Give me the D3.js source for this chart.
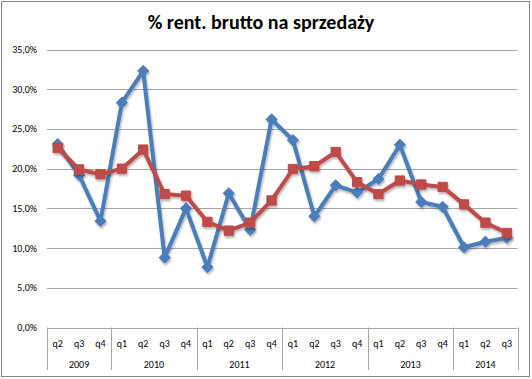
<!DOCTYPE html>
<html>
<head>
<meta charset="utf-8">
<script src="https://cdn.jsdelivr.net/npm/d3@7"></script>
<style>
  body { margin: 0; background: #fff; }
  svg { display: block; font-family: Carlito, "Open Sans", "Liberation Sans", sans-serif; }
</style>
</head>
<body>
<div id="chart"></div>
<script>
const width = 532;
const height = 379;

const years = ["2009", "2010", "2011", "2012", "2013", "2014"];
const quarters = [
  ["q2","q3","q4"],
  ["q1","q2","q3","q4"],
  ["q1","q2","q3","q4"],
  ["q1","q2","q3","q4"],
  ["q1","q2","q3","q4"],
  ["q1","q2","q3"]
];

const blueValues = [23.1, 19.2, 13.4, 28.3, 32.3, 8.8, 15.0, 7.6, 16.9, 12.3, 26.2,
  23.6, 14.0, 17.9, 17.0, 18.7, 23.0, 15.8, 15.2, 10.1, 10.8, 11.3];
const redValues = [22.6, 19.9, 19.3, 20.0, 22.4, 16.8, 16.6, 13.3, 12.2, 13.2, 16.0,
  19.95, 20.3, 22.1, 18.3, 16.8, 18.5, 18.0, 17.7, 15.5, 13.2, 11.9];

const yTicks = [0, 5, 10, 15, 20, 25, 30, 35];

// flatten categories
const cats = [];
years.forEach((y, i) => quarters[i].forEach(q => cats.push({ year: y, q: q, key: y + q })));

const margin = { left: 47, right: 14, top: 49, bottom: 51 };

const svg = d3.select("#chart")
  .append("svg")
  .attr("width", width)
  .attr("height", height);

// outer border
svg.append("rect")
  .attr("x", 1.5).attr("y", 1.5)
  .attr("width", width - 4).attr("height", height - 4)
  .attr("fill", "#fff")
  .attr("stroke", "#868686");

const x = d3.scaleBand()
  .domain(cats.map(d => d.key))
  .range([margin.left, width - margin.right - 0.5]);

const y = d3.scaleLinear()
  .domain([0, 35])
  .range([327.5, 49.5]);

// title
svg.append("text")
  .attr("x", 261)
  .attr("y", 29)
  .attr("text-anchor", "middle")
  .attr("font-size", 20)
  .attr("font-weight", "bold")
  .attr("fill", "#000")
  .text("% rent. brutto na sprzedaży");

// gridlines
svg.append("g")
  .selectAll("line")
  .data(yTicks)
  .join("line")
  .attr("x1", margin.left)
  .attr("x2", x.range()[1])
  .attr("y1", d => Math.round(y(d)) + 0.5)
  .attr("y2", d => Math.round(y(d)) + 0.5)
  .attr("stroke", "#a6a6a6")
  .attr("stroke-width", 1);

// y labels
svg.append("g")
  .selectAll("text")
  .data(yTicks)
  .join("text")
  .attr("x", 37)
  .attr("y", d => y(d))
  .attr("dy", "0.35em")
  .attr("text-anchor", "end")
  .attr("font-size", 10)
  .attr("fill", "#000")
  .text(d => d3.format(".1f")(d).replace(".", ",") + "%");

// year separators
let idx = 0;
const bounds = [0];
quarters.forEach(q => { idx += q.length; bounds.push(idx); });
const xAt = i => i < cats.length ? x(cats[i].key) : x.range()[1];

svg.append("g")
  .selectAll("line")
  .data(bounds)
  .join("line")
  .attr("x1", d => Math.round(xAt(d)) + 0.5)
  .attr("x2", d => Math.round(xAt(d)) + 0.5)
  .attr("y1", y(0))
  .attr("y2", 370)
  .attr("stroke", "#a6a6a6");

// quarter labels
svg.append("g")
  .selectAll("text")
  .data(cats)
  .join("text")
  .attr("x", d => x(d.key) + x.bandwidth() / 2)
  .attr("y", 347)
  .attr("text-anchor", "middle")
  .attr("font-size", 10)
  .attr("fill", "#000")
  .text(d => d.q);

// year labels
svg.append("g")
  .selectAll("text")
  .data(years)
  .join("text")
  .attr("x", (d, i) => (xAt(bounds[i]) + xAt(bounds[i + 1])) / 2)
  .attr("y", 368)
  .attr("text-anchor", "middle")
  .attr("font-size", 10)
  .attr("fill", "#000")
  .text(d => d);

// shadow filter
const defs = svg.append("defs");
const f = defs.append("filter").attr("id", "shadow")
  .attr("x", "-10%").attr("y", "-10%").attr("width", "120%").attr("height", "130%");
f.append("feDropShadow")
  .attr("dx", 1).attr("dy", 2).attr("stdDeviation", 1.2)
  .attr("flood-color", "#000").attr("flood-opacity", 0.3);

const series = [
  { name: "blue", values: blueValues, color: "#4a7ebb", marker: "diamond" },
  { name: "red", values: redValues, color: "#be4b48", marker: "square" }
];

const line = d3.line()
  .x((d, i) => x(cats[i].key) + x.bandwidth() / 2)
  .y(d => y(d));

series.forEach(s => {
  const g = svg.append("g").attr("filter", "url(#shadow)");
  g.append("path")
    .datum(s.values)
    .attr("d", line)
    .attr("fill", "none")
    .attr("stroke", s.color)
    .attr("stroke-width", 4)
    .attr("stroke-linejoin", "round");
  g.selectAll("path.m")
    .data(s.values)
    .join("path")
    .attr("class", "m")
    .attr("transform", (d, i) => `translate(${x(cats[i].key) + x.bandwidth() / 2},${y(d)})`)
    .attr("d", s.marker === "diamond"
      ? d3.symbol().type(d3.symbolDiamond2).size(80)()
      : d3.symbol().type(d3.symbolSquare2).size(110)())
    .attr("fill", s.color)
    .attr("stroke", s.color)
    .attr("stroke-width", 1);
});
</script>
</body>
</html>
